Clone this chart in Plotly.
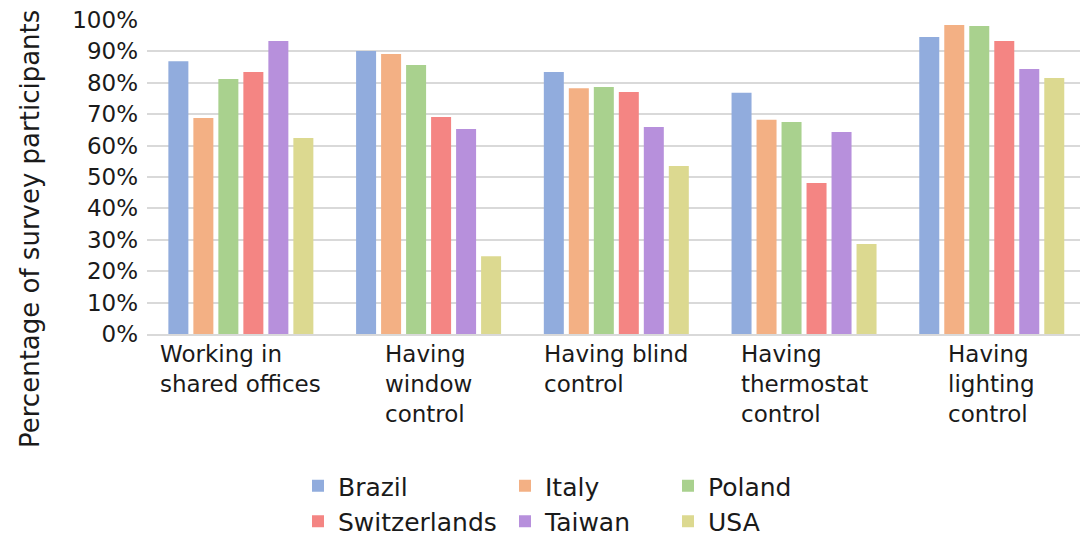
import plotly.graph_objects as go

# Survey questions (x categories)
categories = [
    "Working in<br>shared offices",
    "Having<br>window<br>control",
    "Having blind<br>control",
    "Having<br>thermostat<br>control",
    "Having<br>lighting<br>control",
]
category_keys = ["shared", "window", "blind", "thermostat", "lighting"]

# Share of participants per country (%)
brazil = [86.9, 90.1, 83.4, 76.8, 94.6]
italy = [68.8, 89.2, 78.3, 68.2, 98.4]
poland = [81.2, 85.7, 78.7, 67.5, 98.1]
switzerlands = [83.4, 69.1, 77.1, 48.1, 93.3]
taiwan = [93.3, 65.3, 65.9, 64.3, 84.4]
usa = [62.4, 24.8, 53.5, 28.7, 81.5]

series_names = ["Brazil", "Italy", "Poland", "Switzerlands", "Taiwan", "USA"]
series_values = [brazil, italy, poland, switzerlands, taiwan, usa]
series_colors = ["#91ACDD", "#F3B084", "#A9D18E", "#F48583", "#B790DC", "#DCD990"]
# three legend columns: (Brazil, Switzerlands), (Italy, Taiwan), (Poland, USA)
series_legends = ["legend", "legend2", "legend3", "legend", "legend2", "legend3"]

y_ticks = list(range(0, 101, 10))
y_tick_labels = [f"{v}%" for v in y_ticks]

FONT = "DejaVu Sans"
TEXT = "#1a1a1a"

# plot-area geometry in pixels
W, H = 1080, 539
M_L, M_R, M_T, M_B = 147, 0, 20, 205
PLOT_W = W - M_L - M_R
PLOT_H = H - M_T - M_B

fig = go.Figure()
for name, vals, color, lg in zip(series_names, series_values, series_colors, series_legends):
    fig.add_trace(go.Bar(
        name=name,
        x=category_keys,
        y=vals,
        marker=dict(color=color, line=dict(width=0)),
        legend=lg,
    ))

# Multi-line category labels, centred under each group with left-aligned lines
for key, label in zip(category_keys, categories):
    fig.add_annotation(
        x=key, xref="x", y=0, yref="paper",
        text=label, showarrow=False,
        xanchor="center", yanchor="top", align="left",
        yshift=-5,
        font=dict(family=FONT, size=23, color=TEXT),
    )

# Rotated y-axis title, left of the plot area
fig.add_annotation(
    x=(30 - M_L) / PLOT_W, xref="paper",
    y=(M_T + PLOT_H - 229) / PLOT_H, yref="paper",
    text="Percentage of survey participants",
    showarrow=False, textangle=-90,
    xanchor="center", yanchor="middle",
    font=dict(family=FONT, size=26, color=TEXT),
)

legend_style = dict(
    orientation="v",
    xref="container", yref="container",
    xanchor="left", yanchor="top",
    font=dict(family=FONT, size=25, color=TEXT),
    bgcolor="rgba(0,0,0,0)",
    itemclick=False,
    tracegroupgap=0,
)
LEG_TOP = 1 - 463 / H

fig.update_layout(
    width=W, height=H,
    margin=dict(l=M_L, r=M_R, t=M_T, b=M_B, autoexpand=False),
    paper_bgcolor="white", plot_bgcolor="white",
    barmode="group", bargap=0.201, bargroupgap=0.2,
    font=dict(family=FONT, color=TEXT),
    showlegend=True,
    legend=dict(x=298 / W, y=LEG_TOP, **legend_style),
    legend2=dict(x=505 / W, y=LEG_TOP, **legend_style),
    legend3=dict(x=668 / W, y=LEG_TOP, **legend_style),
    xaxis=dict(
        type="category",
        range=[-0.5, 4.47],
        showticklabels=False,
        showgrid=False,
        showline=True, linecolor="#d9d9d9", linewidth=2,
        ticks="",
        automargin=False,
    ),
    yaxis=dict(
        range=[0, 100],
        tickvals=y_ticks, ticktext=y_tick_labels,
        tickfont=dict(family=FONT, size=23, color=TEXT),
        showgrid=True, gridcolor="#d9d9d9", gridwidth=2,
        zeroline=False, showline=False, ticks="",
        ticklabelstandoff=8,
        automargin=False,
    ),
)

fig.write_html("out.html")
